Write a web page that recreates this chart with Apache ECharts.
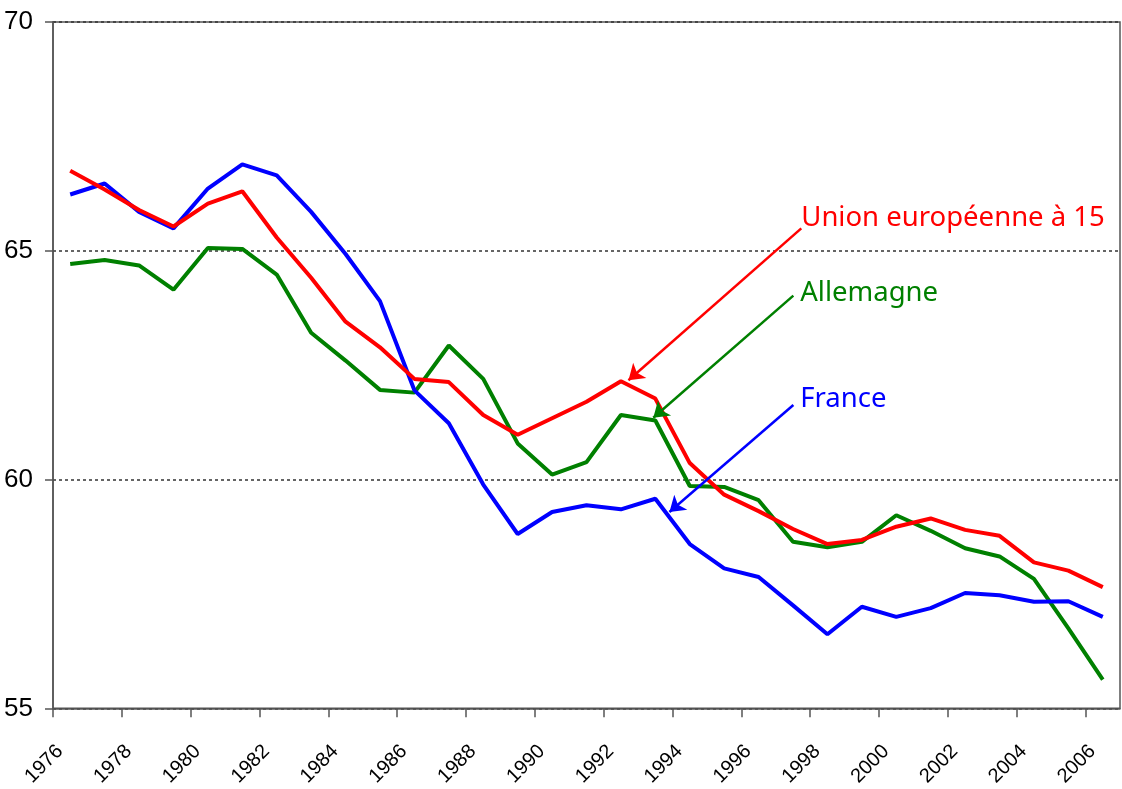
<!DOCTYPE html>
<html>
<head>
<meta charset="utf-8">
<title>Taux d'emploi</title>
<script src="https://cdn.jsdelivr.net/npm/echarts@6/dist/echarts.min.js"></script>
<style>
html, body { margin: 0; padding: 0; background: #fff; }
#chart { width: 1122px; height: 789px; }
</style>
</head>
<body>
<div id="chart"></div>
<script>
// années (points placés au milieu de chaque année)
var years = [1976,1977,1978,1979,1980,1981,1982,1983,1984,1985,1986,1987,1988,1989,1990,1991,
             1992,1993,1994,1995,1996,1997,1998,1999,2000,2001,2002,2003,2004,2005,2006];
var ue15 = [66.75,66.34,65.89,65.53,66.03,66.30,65.29,64.41,63.45,62.89,62.20,62.13,61.41,60.98,61.34,61.70,
            62.15,61.77,60.36,59.67,59.31,58.92,58.59,58.68,58.97,59.15,58.90,58.77,58.19,58.01,57.65];
var allemagne = [64.71,64.80,64.68,64.15,65.06,65.04,64.48,63.21,62.60,61.96,61.90,62.93,62.20,60.79,60.11,60.38,
                 61.41,61.29,59.86,59.84,59.55,58.64,58.52,58.64,59.22,58.88,58.50,58.32,57.83,56.75,55.63];
var france = [66.23,66.47,65.85,65.49,66.36,66.89,66.65,65.85,64.93,63.90,61.95,61.23,59.89,58.81,59.29,59.44,
              59.35,59.58,58.59,58.06,57.87,57.25,56.62,57.22,57.00,57.19,57.52,57.47,57.33,57.34,57.00];
var tickYears = [1976,1978,1980,1982,1984,1986,1988,1990,1992,1994,1996,1998,2000,2002,2004,2006];

// annotations : [texte, point du texte, début flèche, pointe flèche]
var labelUe = ['Union européenne à 15', [1997.74, 65.72], [1997.74, 65.49], [1992.72, 62.17]];
var labelAll = ['Allemagne', [1997.71, 64.07], [1997.51, 64.02], [1993.44, 61.35]];
var labelFr = ['France', [1997.71, 61.76], [1997.51, 61.63], [1993.91, 59.29]];

var narrow = "'Liberation Sans Narrow', 'Arial Narrow', 'Liberation Sans', sans-serif";
var labelShift = 0.2; // les libellés inclinés sont un peu à droite des graduations

var chart = echarts.init(document.getElementById('chart'));

function makeSeries(name, values, color, note) {
    return {
        name: name,
        type: 'line',
        data: years.map(function (y, i) { return [y + 0.5, values[i]]; }),
        symbol: 'none',
        lineStyle: { color: color, width: 4 },
        itemStyle: { color: color },
        silent: true,
        markLine: {
            silent: true,
            symbol: ['none', 'arrow'],
            symbolSize: 15,
            label: { show: false },
            lineStyle: { color: color, width: 2.5, type: 'solid' },
            data: [[{ coord: note[2] }, { coord: note[3] }]]
        },
        markPoint: {
            silent: true,
            symbol: 'circle',
            symbolSize: 0,
            label: {
                show: true,
                position: 'right',
                distance: 0,
                color: color,
                fontFamily: 'Noto Sans',
                fontSize: 27.5,
                formatter: function (p) { return p.name; }
            },
            data: [{ name: note[0], coord: note[1] }]
        }
    };
}

var option = {
    animation: false,
    backgroundColor: '#fff',
    grid: {
        left: 53, right: 2, top: 22, bottom: 75,
        show: true, borderColor: '#555', borderWidth: 1.5
    },
    xAxis: {
        type: 'value',
        min: 1976,
        max: 2007,
        interval: 2,
        axisLine: { show: true, lineStyle: { color: '#555', width: 1.5 } },
        axisTick: {
            show: true, length: 9, customValues: tickYears,
            lineStyle: { color: '#555', width: 1.5 }
        },
        axisLabel: {
            rotate: 45,
            margin: 40,
            color: '#000',
            fontFamily: narrow,
            fontSize: 20,
            customValues: tickYears.map(function (y) { return y + labelShift; }),
            formatter: function (v) { return String(Math.round(v - labelShift)); }
        },
        splitLine: { show: false }
    },
    yAxis: {
        type: 'value',
        min: 55,
        max: 70,
        interval: 5,
        axisLine: { show: true, lineStyle: { color: '#555', width: 1.5 } },
        axisTick: { show: true, length: 8, lineStyle: { color: '#555', width: 1.5 } },
        axisLabel: {
            margin: 20,
            color: '#000',
            fontFamily: narrow,
            fontSize: 26
        },
        splitLine: { show: true, lineStyle: { color: '#333', width: 1.5, type: [3, 3] } }
    },
    series: [
        makeSeries('Allemagne', allemagne, '#008000', labelAll),
        makeSeries('France', france, '#0000ff', labelFr),
        makeSeries('Union européenne à 15', ue15, '#ff0000', labelUe)
    ]
};
chart.setOption(option);
</script>
</body>
</html>
